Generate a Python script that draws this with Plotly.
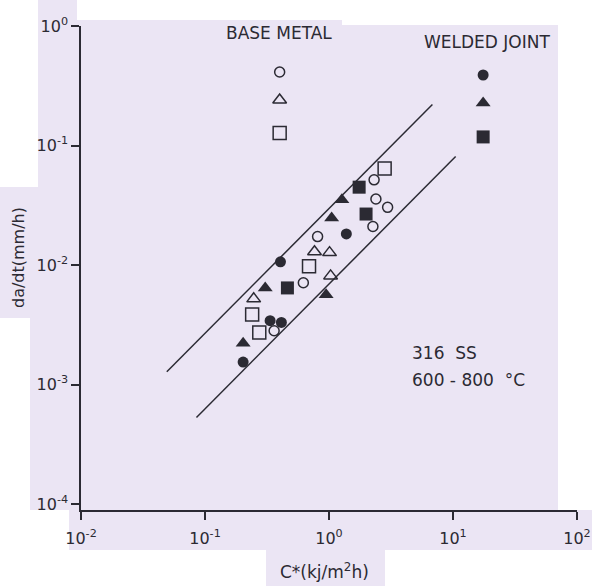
import plotly.graph_objects as go

# ---- data ----
bm_circle_x = [2.31, 2.39, 2.97, 2.26, 0.809, 0.621, 0.361]
bm_circle_y = [0.0516, 0.0357, 0.0304, 0.0210, 0.0173, 0.00711, 0.00282]
bm_tri_x = [0.764, 1.01, 0.247, 1.03]
bm_tri_y = [0.0129, 0.0127, 0.00521, 0.00811]
bm_sq_x = [2.81, 0.690, 0.240, 0.274]
bm_sq_y = [0.0643, 0.00977, 0.00385, 0.00273]

wj_circle_x = [1.38, 0.406, 0.335, 0.413, 0.203]
wj_circle_y = [0.0182, 0.01064, 0.00342, 0.00331, 0.00154]
wj_tri_x = [1.27, 1.05, 0.306, 0.948, 0.203]
wj_tri_y = [0.0352, 0.0247, 0.00643, 0.00564, 0.00222]
wj_sq_x = [1.75, 1.99, 0.462]
wj_sq_y = [0.0448, 0.0267, 0.00643]

band_upper_x = [0.0492, 6.82]
band_upper_y = [0.00128, 0.220]
band_lower_x = [0.0853, 10.5]
band_lower_y = [0.000530, 0.0808]

legend_bm_x = [0.40, 0.40, 0.40]
legend_bm_y = [0.412, 0.240, 0.127]
legend_wj_x = [17.5, 17.5, 17.5]
legend_wj_y = [0.389, 0.227, 0.118]

x_tickvals = [0.01, 0.1, 1, 10, 100]
x_ticktext = ["10<sup>-2</sup>", "10<sup>-1</sup>", "10<sup>0</sup>", "10<sup>1</sup>", "10<sup>2</sup>"]
y_tickvals = [1e-4, 1e-3, 1e-2, 1e-1, 1]
y_ticktext = ["10<sup>-4</sup>", "10<sup>-3</sup>", "10<sup>-2</sup>", "10<sup>-1</sup>", "10<sup>0</sup>"]

INK = "#2b2a33"
BG = "#ebe5f4"
FONT = "DejaVu Sans, sans-serif"

fig = go.Figure()

for bx, by in [(band_upper_x, band_upper_y), (band_lower_x, band_lower_y)]:
    fig.add_trace(go.Scatter(x=bx, y=by, mode="lines",
                             line=dict(color=INK, width=1.5),
                             showlegend=False, hoverinfo="skip"))

def pts(x, y, symbol, size, open_=False):
    m = dict(symbol=symbol, size=size, color=INK)
    if open_:
        m["line"] = dict(color=INK, width=1.5)
    else:
        m["line"] = dict(width=0)
    fig.add_trace(go.Scatter(x=x, y=y, mode="markers", marker=m, showlegend=False))

pts(bm_circle_x, bm_circle_y, "circle-open", 10, True)
pts(bm_tri_x, bm_tri_y, "triangle-up-open", 12, True)
pts(bm_sq_x, bm_sq_y, "square-open", 13, True)
pts(wj_circle_x, wj_circle_y, "circle", 11)
pts(wj_tri_x, wj_tri_y, "triangle-up", 13)
pts(wj_sq_x, wj_sq_y, "square", 13)

# legend glyphs
pts(legend_bm_x[:1], legend_bm_y[:1], "circle-open", 10, True)
pts(legend_bm_x[1:2], legend_bm_y[1:2], "triangle-up-open", 12, True)
pts(legend_bm_x[2:], legend_bm_y[2:], "square-open", 13, True)
pts(legend_wj_x[:1], legend_wj_y[:1], "circle", 11)
pts(legend_wj_x[1:2], legend_wj_y[1:2], "triangle-up", 13)
pts(legend_wj_x[2:], legend_wj_y[2:], "square", 13)

# white scan patches (paper pixels -> paper fraction)
W, H = 592, 586
ML, MR, MT, MB = 81, 15, 26, 76
PW, PH = W - ML - MR, H - MT - MB

def px2paper(x, y):
    return (x - ML) / PW, (H - MB - y) / PH

patches = [(77, 0, 592, 20), (342, 0, 592, 25), (558, 0, 592, 510), (0, 0, 38, 187),
           (0, 318, 30, 510), (0, 510, 69, 586), (69, 550, 266, 586), (385, 550, 592, 586)]
shapes = []
for x0, y0, x1, y1 in patches:
    a0, b0 = px2paper(x0, y1)
    a1, b1 = px2paper(x1, y0)
    shapes.append(dict(type="rect", xref="paper", yref="paper", x0=a0, y0=b0, x1=a1, y1=b1,
                       fillcolor="white", line=dict(width=0), layer="below"))

def ann(text, x, y, size, xanchor="center", angle=0):
    px, py = px2paper(x, y)
    return dict(text=text, x=px, y=py, xref="paper", yref="paper", showarrow=False,
                xanchor=xanchor, yanchor="middle", textangle=angle,
                font=dict(family=FONT, size=size, color=INK))

annotations = [
    ann("BASE METAL", 279, 33, 17),
    ann("WELDED JOINT", 487, 42, 17),
    ann("316  SS", 410, 353, 17, "left"),
    ann("600 - 800  °C", 410, 380, 17, "left"),
    ann("da/dt(mm/h)", 18, 258, 16, angle=-90),
    ann("C*(kj/m<sup>2</sup>h)", 324, 571, 17),
]

axis_common = dict(type="log", showline=True, linecolor=INK, linewidth=1.5,
                   ticks="outside", ticklen=8, tickwidth=1.5, tickcolor=INK,
                   showgrid=False, zeroline=False, mirror=False, automargin=False,
                   ticklabeloverflow="allow",
                   tickfont=dict(family=FONT, size=16, color=INK))

fig.update_layout(
    width=W, height=H,
    margin=dict(l=ML, r=MR, t=MT, b=MB),
    paper_bgcolor=BG, plot_bgcolor="rgba(0,0,0,0)",
    xaxis=dict(range=[-2, 2], tickvals=x_tickvals, ticktext=x_ticktext,
               ticklabelstandoff=5, **axis_common),
    yaxis=dict(range=[-4.05, 0], tickvals=y_tickvals, ticktext=y_ticktext, **axis_common),
    shapes=shapes, annotations=annotations, showlegend=False,
)

fig.write_html("out.html")
